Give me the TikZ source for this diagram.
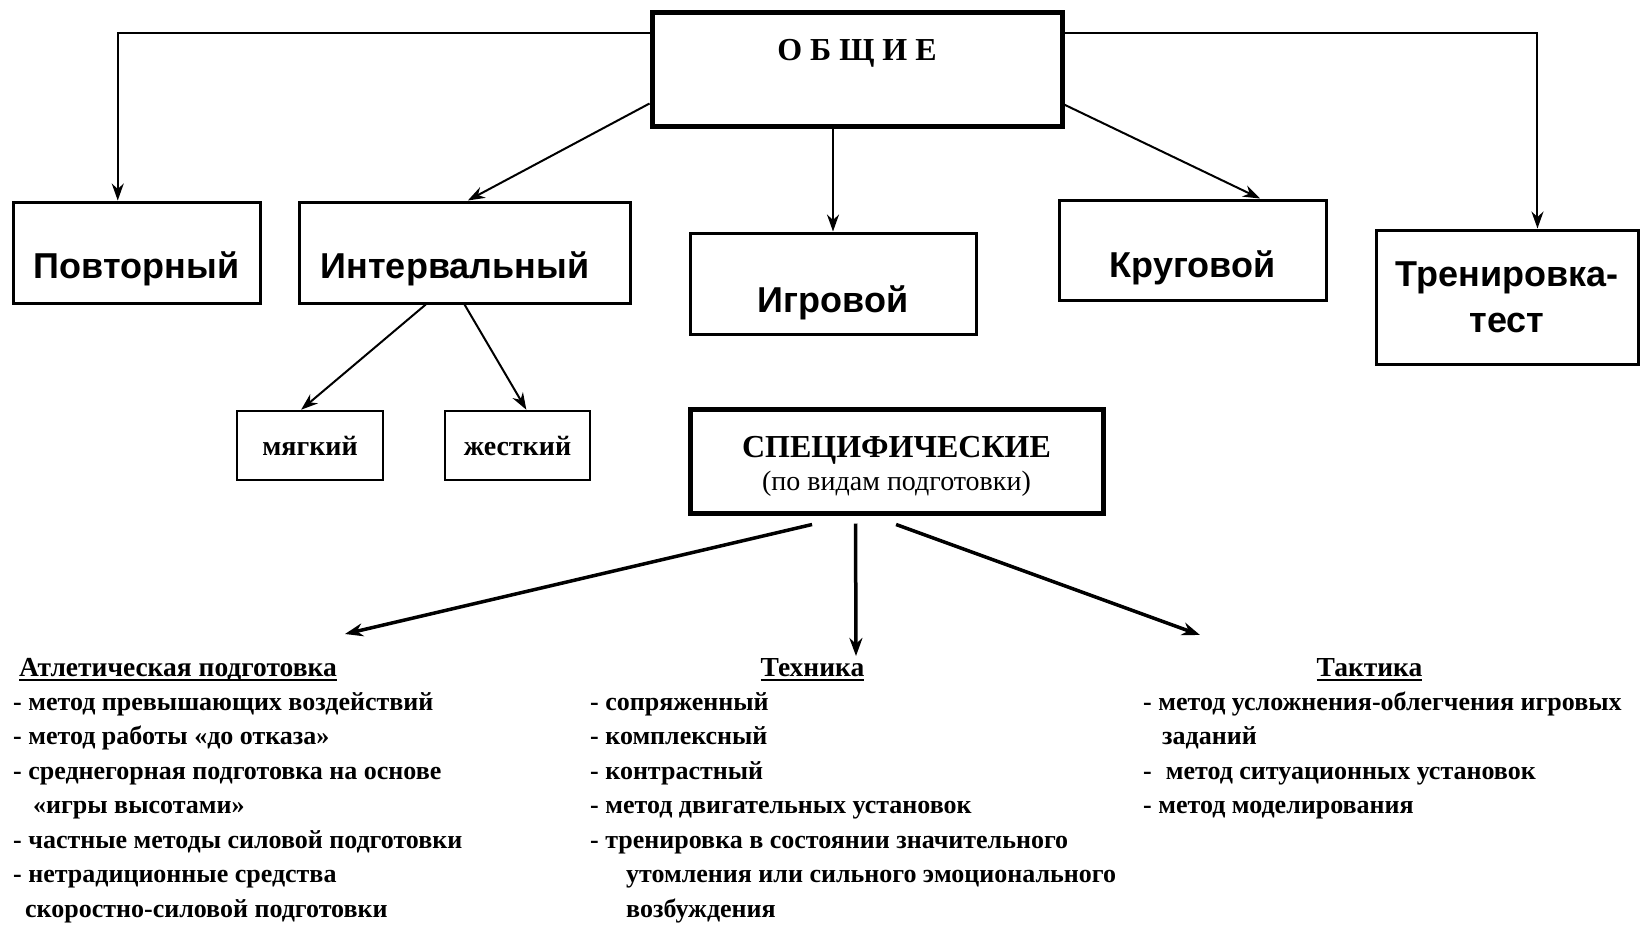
\documentclass[tikz,border=0pt]{standalone}
\usepackage{fontspec}
\setmainfont{Liberation Serif}
\newfontfamily\lsans{Liberation Sans}
\newfontfamily\spacedserif[LetterSpace=25]{Liberation Serif}
\usetikzlibrary{arrows.meta,calc}
\newcommand\myul[1]{\setbox0\hbox{#1}\rlap{\rule[-5pt]{\wd0}{2pt}}\box0}
\tikzset{
  bx/.style={draw, line width=3pt, inner sep=0pt, font=\lsans\bfseries\fontsize{36}{40}\selectfont},
  thickbx/.style={draw, line width=5pt, inner sep=0pt},
  smallbx/.style={draw, line width=2.5pt, inner sep=0pt, font=\bfseries\fontsize{28}{32}\selectfont},
  conn/.style={line width=2pt, -{Stealth[length=17pt,width=12pt]}},
  bigconn/.style={line width=3.5pt, -{Stealth[length=18pt,width=13pt]}},
  body/.style={inner sep=0pt, align=left, anchor=north west, font=\bfseries\fontsize{26}{34.5}\selectfont},
  hdr/.style={inner sep=0pt, anchor=base, font=\bfseries\fontsize{27.5}{34.5}\selectfont}
}
\begin{document}
\begin{tikzpicture}[x=1pt,y=-1pt]
\fill[white] (0,0) rectangle (1642,926);
% boxes
\node[thickbx, minimum width=410pt, minimum height=114pt, text height=22pt, text depth=40pt,
      font=\spacedserif\bfseries\fontsize{32}{36}\selectfont] (obsh) at (857,69) {ОБЩИЕ};
\node[bx, minimum width=247pt, minimum height=101pt, text height=51pt, text depth=0pt] (povt) at (136.5,252.5) {Повторный};
\node[bx, minimum width=331pt, minimum height=101pt, text height=51pt, text depth=0pt] (interv) at (464.5,252.5) {Интервальный\hspace*{19pt}};
\node[bx, minimum width=286pt, minimum height=101pt, text height=57pt, text depth=0pt] (igr) at (833,283.5) {Игровой};
\node[bx, minimum width=267pt, minimum height=100pt, text height=54pt, text depth=0pt] (krug) at (1192.5,250) {Круговой};
\node[bx, minimum width=262pt, minimum height=134pt, align=center,
      font=\lsans\bfseries\fontsize{36}{46}\selectfont] (trenir) at (1507,297) {Тренировка-\\тест};
\node[smallbx, minimum width=146pt, minimum height=69pt] (myag) at (310,445.5) {мягкий};
\node[smallbx, minimum width=145pt, minimum height=69pt] (zhest) at (517.5,445.5) {жесткий};
\node[thickbx, minimum width=413pt, minimum height=104pt, align=center, font=\fontsize{28}{33}\selectfont] (spec) at (896.5,461)
  {\rule{0pt}{32pt}{\bfseries\fontsize{32}{33}\selectfont СПЕЦИФИЧЕСКИЕ}\\{\fontsize{28}{33}\selectfont (по видам подготовки)}};
% headers and lists
\node[hdr, anchor=base west] (atl) at (19,676) {\myul{Атлетическая подготовка}};
\node[hdr] (tekh) at (812.5,676) {\myul{Техника}};
\node[hdr] (takt) at (1369.5,676) {\myul{Тактика}};
\node[body] (atlist) at (13,690) {\rule{0pt}{20pt}- метод превышающих воздействий\\- метод работы «до отказа»\\- среднегорная подготовка на основе\\\hspace*{20pt}«игры высотами»\\- частные методы силовой подготовки\\- нетрадиционные средства\\\hspace*{12pt}скоростно-силовой подготовки};
\node[body] (tekhlist) at (590,690) {\rule{0pt}{20pt}- сопряженный\\- комплексный\\- контрастный\\- метод двигательных установок\\- тренировка в состоянии значительного\\\hspace*{36pt}утомления или сильного эмоционального\\\hspace*{36pt}возбуждения};
\node[body] (taktlist) at (1143,690) {\rule{0pt}{20pt}- метод усложнения-облегчения игровых\\\hspace*{19pt}заданий\\-\hspace{14pt}метод ситуационных установок\\- метод моделирования};
% connectors
\draw[conn] ($(obsh.north west)!0.2!(obsh.south west)$) -| ($(povt.north west)!0.425!(povt.north east)$);
\draw[conn] ($(obsh.north east)!0.2!(obsh.south east)$) -| ($(trenir.north west)!0.615!(trenir.north east)$);
\draw[conn] ($(obsh.north west)!0.79!(obsh.south west)$) -- ($(interv.north west)!0.51!(interv.north east)$);
\draw[conn] (igr.north |- obsh.south) -- (igr.north);
\draw[conn] ($(obsh.north east)!0.8!(obsh.south east)$) -- ($(krug.north west)!0.75!(krug.north east)$);
\draw[conn] ($(interv.south west)!0.384!(interv.south east)$) -- ($(myag.north west)!0.44!(myag.north east)$);
\draw[conn] (interv.south) -- ($(zhest.north west)!0.56!(zhest.north east)$);
\coordinate (atlend) at (345,634);
\coordinate (tekhend) at (856,656);
\coordinate (taktend) at (1200,635);
\draw[bigconn] ($(spec.south west)!0.298!(spec.south east)+(0,9)$) -- (atlend);
\draw[bigconn] ($(spec.south west)!0.402!(spec.south east)+(0,8)$) -- (tekhend);
\draw[bigconn] ($(spec.south west)!0.499!(spec.south east)+(0,9)$) -- (taktend);
\end{tikzpicture}
\end{document}
